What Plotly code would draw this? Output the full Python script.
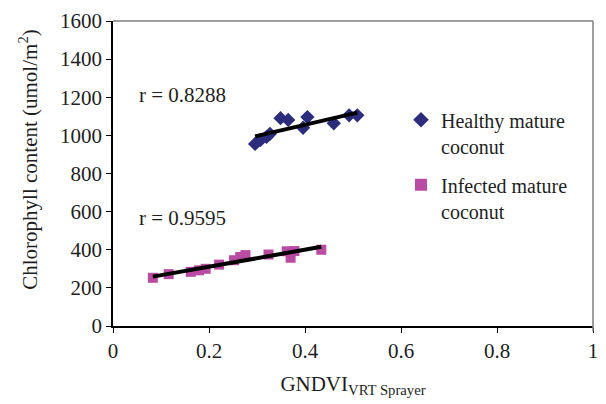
import numpy as np
import plotly.graph_objects as go

# GNDVI (VRT sprayer) vs chlorophyll content
healthy_x = [0.296, 0.307, 0.320, 0.327, 0.349, 0.365, 0.396, 0.405, 0.460, 0.492, 0.509]
healthy_y = [955, 975, 992, 1008, 1090, 1081, 1040, 1096, 1063, 1105, 1105]

infected_x = [0.083, 0.116, 0.162, 0.179, 0.193, 0.221, 0.252, 0.265, 0.276, 0.324, 0.362, 0.378, 0.370, 0.434]
infected_y = [253, 272, 284, 292, 300, 322, 345, 362, 372, 375, 392, 393, 358, 400]

r_labels = ["r = 0.8288", "r = 0.9595"]
x_ticks = [0, 0.2, 0.4, 0.6, 0.8, 1]
x_tick_text = ["0", "0.2", "0.4", "0.6", "0.8", "1"]
y_ticks = [0, 200, 400, 600, 800, 1000, 1200, 1400, 1600]

FONT = "Liberation Serif, Times New Roman, serif"
TEXT = "#1e1e1e"
NAVY = "#2b2c7c"
MAGENTA = "#b94ba3"


def trend(xs, ys):
    k, b = np.polyfit(xs, ys, 1)
    xx = np.array([min(xs), max(xs)])
    return xx, k * xx + b


fig = go.Figure()

fig.add_trace(go.Scatter(x=healthy_x, y=healthy_y, mode="markers",
                         name="Healthy mature<br>coconut", legendgroup="h",
                         marker=dict(symbol="diamond", size=11, color=NAVY)))
fig.add_trace(go.Scatter(x=infected_x, y=infected_y, mode="markers",
                         name="Infected mature<br>coconut", legendgroup="i",
                         marker=dict(symbol="square", size=10, color=MAGENTA)))

# linear trend lines over each group's range
for xs, ys in [(healthy_x, healthy_y), (infected_x, infected_y)]:
    tx, ty = trend(xs, ys)
    fig.add_trace(go.Scatter(x=tx, y=ty, mode="lines", showlegend=False,
                             line=dict(color="black", width=4), hoverinfo="skip"))

fig.add_annotation(x=0.049, xref="paper", y=1212, yref="y", text=r_labels[0],
                   showarrow=False, xanchor="left", font=dict(family=FONT, size=21, color=TEXT))
fig.add_annotation(x=0.049, xref="paper", y=567, yref="y", text=r_labels[1],
                   showarrow=False, xanchor="left", font=dict(family=FONT, size=21, color=TEXT))

# y-axis title, placed as in the original layout (slightly above centre)
fig.add_annotation(x=-0.175, xref="paper", y=0.545, yref="paper",
                   text="Chlorophyll content (umol/m<sup>2</sup>)", textangle=-90,
                   showarrow=False, xanchor="center", yanchor="middle",
                   font=dict(family=FONT, size=21, color=TEXT))

# gray plot-area frame on top and right
fig.add_shape(type="line", xref="paper", yref="paper", x0=0, x1=1, y0=1, y1=1,
              line=dict(color="#7f7f7f", width=1.5))
fig.add_shape(type="line", xref="paper", yref="paper", x0=1, x1=1, y0=-0.018, y1=1,
              line=dict(color="#7f7f7f", width=1.5))

fig.update_layout(
    width=606, height=404,
    margin=dict(l=113, r=8, t=21, b=78),
    paper_bgcolor="white", plot_bgcolor="white",
    font=dict(family=FONT, size=20, color=TEXT),
    legend=dict(x=0.6, y=0.74, xanchor="left", yanchor="top",
                bgcolor="rgba(0,0,0,0)", font=dict(family=FONT, size=20, color=TEXT),
                valign="top", tracegroupgap=10, itemsizing="constant"),
    xaxis=dict(range=[0, 1], tickvals=x_ticks, ticktext=x_tick_text,
               showgrid=False, zeroline=False, showline=True, linecolor="black", linewidth=1.5,
               ticks="outside", ticklen=5, tickcolor="black",
               tickfont=dict(family=FONT, size=21, color=TEXT),
               title=dict(text="GNDVI<sub>VRT Sprayer</sub>",
                          font=dict(family=FONT, size=21, color=TEXT), standoff=14)),
    yaxis=dict(range=[0, 1600], tickvals=y_ticks, showgrid=False, zeroline=False,
               showline=True, linecolor="black", linewidth=1.5,
               ticks="outside", ticklen=5, tickcolor="black",
               tickfont=dict(family=FONT, size=21, color=TEXT)),
)

fig.write_html("out.html")
